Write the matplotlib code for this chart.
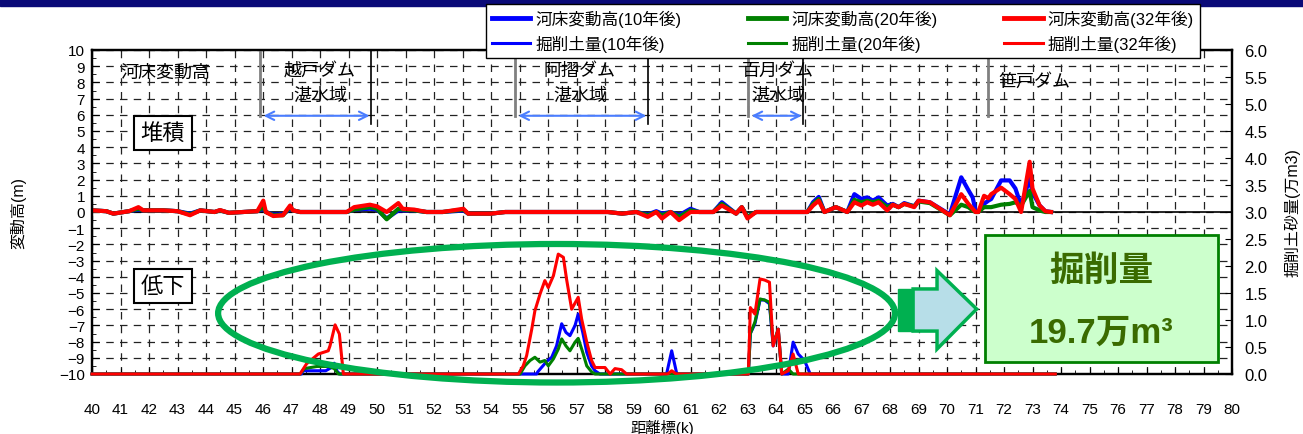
import numpy as np
import matplotlib.pyplot as plt
from matplotlib.patches import Ellipse, Rectangle, Polygon, FancyArrowPatch
from matplotlib.lines import Line2D

plt.rcParams['font.family'] = ['Liberation Sans', 'Noto Sans CJK JP']

# 河床変動高 (m) : distance (k) and values for 10 / 20 / 32 years
bed_k = [40.0, 40.5, 40.75, 41.3, 41.63, 41.8, 42.5, 43.0, 43.44, 43.8, 44.3, 44.49, 44.8,
         45.3, 45.8, 46.01, 46.1, 46.36, 46.7, 46.95, 47.05, 47.3, 48.94, 49.2, 49.75, 50.0,
         50.34, 50.75, 50.9, 51.3, 51.74, 52.3, 53.03, 53.2, 54.0, 54.5, 58.1, 58.6, 59.1,
         59.5, 59.8, 60.0, 60.3, 60.6, 61.0, 61.3, 61.8, 62.1, 62.6, 62.8, 63.0, 63.3, 65.1,
         65.3, 65.5, 65.7, 66.1, 66.5, 66.75, 67.0, 67.2, 67.4, 67.6, 67.9, 68.1, 68.3, 68.5,
         68.85, 69.0, 69.4, 70.1, 70.5, 70.75, 70.9, 71.0, 71.1, 71.3, 71.45, 71.55, 71.9,
         72.2, 72.4, 72.6, 72.9, 73.0, 73.25, 73.45, 73.65]
bed_32 = [0.1, 0.05, -0.1, 0.05, 0.3, 0.1, 0.1, 0.05, -0.2, 0.1, 0.0, 0.12, -0.05,
          0.0, 0.05, 0.7, 0.0, -0.25, -0.2, 0.4, 0.1, 0.0, 0.0, 0.3, 0.45, 0.35,
          0.0, 0.55, 0.2, 0.15, 0.0, 0.0, 0.2, -0.1, -0.1, 0.0, 0.0, -0.1, 0.0,
          -0.3, 0.0, -0.4, 0.0, -0.5, 0.0, 0.0, 0.0, 0.4, -0.1, 0.3, -0.4, 0.0, 0.0,
          0.4, 0.7, 0.0, 0.3, 0.0, 0.6, 0.4, 0.6, 0.45, 0.6, 0.1, 0.45, 0.3, 0.5,
          0.3, 0.7, 0.6, -0.2, 1.1, 0.5, 0.2, 0.0, 0.0, 1.0, 0.85, 1.1, 1.5,
          1.1, 0.8, 0.0, 3.1, 1.45, 0.4, 0.05, 0.0]
bed_20 = [0.1, 0.05, -0.1, 0.05, 0.2, 0.1, 0.1, 0.05, -0.15, 0.1, 0.0, 0.1, -0.05,
          0.0, 0.05, 0.3, 0.0, -0.2, -0.2, 0.3, 0.1, 0.0, 0.0, 0.15, 0.3, 0.2,
          -0.45, 0.2, 0.15, 0.1, 0.0, 0.0, 0.15, -0.1, -0.1, 0.0, 0.0, -0.1, 0.0,
          -0.2, 0.0, -0.2, 0.0, -0.3, 0.1, 0.0, 0.0, 0.5, -0.1, 0.3, -0.3, 0.0, 0.0,
          0.5, 0.8, 0.0, 0.3, 0.0, 0.75, 0.6, 0.7, 0.6, 0.7, 0.3, 0.45, 0.3, 0.5,
          0.35, 0.65, 0.55, -0.2, 0.45, 0.3, 0.1, 0.0, 0.0, 0.3, 0.3, 0.3, 0.45,
          0.5, 0.6, 0.4, 1.3, 0.3, 0.1, 0.0, 0.0]
bed_10 = [0.1, 0.05, -0.1, 0.05, 0.15, 0.1, 0.1, 0.05, -0.1, 0.1, 0.0, 0.1, -0.05,
          0.0, 0.05, 0.2, 0.0, -0.15, -0.15, 0.2, 0.1, 0.0, 0.0, 0.15, 0.2, 0.15,
          -0.4, 0.1, 0.1, 0.1, 0.0, 0.0, 0.1, -0.1, -0.1, 0.0, 0.0, -0.1, 0.0,
          -0.15, 0.05, -0.1, 0.0, -0.2, 0.2, 0.0, 0.0, 0.6, -0.1, 0.3, -0.3, 0.0, 0.0,
          0.6, 0.93, 0.0, 0.3, 0.0, 1.1, 0.8, 0.9, 0.7, 0.9, 0.4, 0.5, 0.3, 0.55,
          0.35, 0.7, 0.6, -0.15, 2.14, 1.35, 0.9, 0.1, 0.0, 0.5, 0.7, 0.8, 1.95,
          1.95, 1.45, 0.4, 2.05, 1.2, 0.4, 0.05, 0.0]

# 掘削土量 (万m3)
exc32_k = [40.0, 47.3, 47.53, 47.94, 48.29, 48.35, 48.53, 48.68, 48.82, 54.96, 55.13, 55.25,
           55.43, 55.54, 55.72, 55.89, 56.01, 56.19, 56.36, 56.54, 56.65, 56.83, 57.06, 57.18,
           57.36, 57.53, 57.65, 58.0, 58.18, 58.35, 58.58, 58.76, 60.2, 60.34, 60.5, 63.03,
           63.1, 63.26, 63.44, 63.6, 63.77, 63.9, 64.08, 64.2, 64.43, 64.6, 64.78, 73.8]
exc32_v = [0, 0, 0.19, 0.37, 0.43, 0.52, 0.91, 0.74, 0, 0, 0.15, 0.34,
           0.83, 1.17, 1.48, 1.73, 1.6, 1.82, 2.22, 2.16, 1.76, 1.2, 1.42, 1.02,
           0.59, 0.25, 0.12, 0.12, 0, 0.1, 0.08, 0, 0, 0.06, 0, 0,
           1.23, 1.11, 1.76, 1.74, 1.7, 0.52, 0.83, 0, 0.06, 0.37, 0, 0]
exc20_k = [40.0, 47.3, 47.45, 47.9, 48.3, 48.5, 48.65, 55.02, 55.19, 55.37, 55.54, 55.72,
           55.89, 56.01, 56.19, 56.36, 56.48, 56.63, 56.77, 56.95, 57.06, 57.22, 57.36,
           57.53, 57.65, 63.03, 63.1, 63.26, 63.44, 63.6, 63.77, 63.9, 64.08, 64.2, 64.43,
           64.6, 73.8]
exc20_v = [0, 0, 0.1, 0.14, 0.14, 0.1, 0, 0, 0.15, 0.25, 0.31, 0.22,
           0.25, 0.15, 0.28, 0.46, 0.65, 0.52, 0.43, 0.59, 0.66, 0.4, 0.15,
           0.04, 0, 0, 0.75, 0.96, 1.39, 1.37, 1.33, 0.56, 0.83, 0, 0.09,
           0, 0]
exc10_k = [40.0, 47.35, 47.4, 48.2, 48.4, 48.5, 48.6, 48.7, 55.6, 55.64, 55.95, 56.13,
           56.3, 56.48, 56.63, 56.77, 56.95, 57.06, 57.22, 57.36, 57.53, 57.65, 57.82,
           60.16, 60.34, 60.52, 63.03, 63.1, 63.26, 63.44, 63.6, 63.77, 63.9, 64.08, 64.2,
           64.43, 64.6, 64.78, 65.0, 65.2, 73.8]
exc10_v = [0, 0, 0.06, 0.06, 0.12, 0.2, 0.05, 0, 0, 0.04, 0.23, 0.31,
           0.52, 0.93, 0.77, 0.71, 0.9, 1.11, 0.77, 0.4, 0.15, 0.06, 0,
           0, 0.43, 0, 0, 0.75, 0.93, 1.37, 1.37, 1.3, 0.52, 0.83, 0,
           0, 0.59, 0.37, 0.25, 0, 0]

BLUE, GREEN, RED = '#0000FF', '#008000', '#FF0000'

fig = plt.figure(figsize=(13.03, 4.35), dpi=100)
fig.add_artist(Rectangle((0, 1 - 7 / 435), 1, 7 / 435, transform=fig.transFigure,
                         color='#0A0A78', zorder=0))

ax = fig.add_axes([92 / 1303, 1 - 375 / 435, 1140 / 1303, 324 / 435])
ax2 = ax.twinx()

ax.plot(bed_k, bed_10, color=BLUE, lw=3, zorder=3)
ax.plot(bed_k, bed_20, color=GREEN, lw=3, zorder=3)
ax.plot(bed_k, bed_32, color=RED, lw=3, zorder=3)
ax.axhline(0, color='black', lw=1.2, zorder=2)

ax2.plot(exc10_k, exc10_v, color=BLUE, lw=2.2, zorder=3, clip_on=False)
ax2.plot(exc20_k, exc20_v, color=GREEN, lw=2.2, zorder=3, clip_on=False)
ax2.plot(exc32_k, exc32_v, color=RED, lw=2.2, zorder=3, clip_on=False)

ax.set_xlim(40, 80)
ax.set_ylim(-10, 10)
ax2.set_ylim(0, 6)
ax.set_xticks(range(40, 81))
ax.set_xticks(np.arange(40, 80.01, 0.5), minor=True)
ax.set_yticks(range(-10, 11))
ax.set_yticks(np.arange(-10, 10.01, 0.5), minor=True)
r_ticks = np.arange(0, 6.01, 0.5)
ax2.set_yticks(r_ticks)
ax2.set_yticklabels([f'{v:.1f}' for v in r_ticks])

ax.grid(True, which='major', color='#222222', lw=0.9, ls=(0, (6, 5)))
ax.tick_params(axis='x', which='both', direction='in', labelsize=11, pad=20)
ax.tick_params(axis='x', which='major', length=4)
ax.tick_params(axis='x', which='minor', length=3)
ax.tick_params(axis='y', which='both', direction='in', labelsize=11, pad=5)
ax.tick_params(axis='y', which='major', length=5)
ax.tick_params(axis='y', which='minor', length=3)
ax2.tick_params(axis='y', direction='in', length=5, labelsize=12, pad=9)
for a in (ax, ax2):
    for s in a.spines.values():
        s.set_linewidth(1.6)

ax.set_xlabel('距離標(k)', fontsize=11, labelpad=2)
ax.set_ylabel('変動高(m)', fontsize=11.5, labelpad=24)
ax2.set_ylabel('掘削土砂量(万m3)', fontsize=11.5, labelpad=12)

# annotations
T = ax.transData
ax2.text(42.56, 8.64, '河床変動高', transform=T, fontsize=13, ha='center', va='center')
for x0, x1, xt, name in [(45.9, 49.79, 48.0, '越戸ダム'), (54.84, 59.5, 57.12, '阿摺ダム'),
                         (63.02, 64.95, 64.07, '百月ダム')]:
    ax2.plot([x0, x0], [10, 5.93], color='#808080', lw=2, transform=T)
    ax2.plot([x1, x1], [10, 5.43], color='black', lw=1.2, transform=T)
    ax2.add_patch(FancyArrowPatch((x0 + 0.12, 5.94), (x1 - 0.05, 5.94), transform=T,
                                  arrowstyle='<->,head_length=6,head_width=3',
                                  color='#4A7DFF', lw=1.5, shrinkA=0, shrinkB=0))
    ax2.text(xt, 8.72, name, transform=T, fontsize=13, ha='center', va='center')
    ax2.text(xt, 7.22, '湛水域', transform=T, fontsize=13, ha='center', va='center')
ax2.plot([71.44, 71.44], [10, 5.93], color='#808080', lw=2, transform=T)
ax2.text(71.79, 8.1, '笹戸ダム', transform=T, fontsize=13, ha='left', va='center')

box_kw = dict(boxstyle='square,pad=0.3', fc='white', ec='black', lw=1.5)
ax2.text(42.48, 4.88, '堆積', transform=T, fontsize=16, ha='center', va='center', bbox=box_kw)
ax2.text(42.5, -4.57, '低下', transform=T, fontsize=16, ha='center', va='center', bbox=box_kw)

ax2.add_patch(Ellipse((56.3, -6.25), 23.75, 8.55, transform=T, fill=False,
                      ec='#00B050', lw=4.5, clip_on=False, zorder=6))
ax2.add_patch(Rectangle((68.28, -7.35), 0.53, 2.6, transform=T, color='#00B050', zorder=6))
ax2.add_patch(Polygon([(68.81, -4.75), (69.65, -4.75), (69.65, -3.62), (71.04, -5.99),
                       (69.65, -8.46), (69.65, -7.35), (68.81, -7.35)], closed=True,
                      transform=T, fc='#B7DEE8', ec='#00B050', lw=2.5, zorder=6))
ax2.add_patch(Rectangle((71.33, -9.26), 8.18, 7.84, transform=T, fc='#CCFFCC',
                        ec='#008000', lw=2, zorder=6))
ax2.text(75.42, -3.58, '掘削量', transform=T, fontsize=25, fontweight='bold',
         color='#3A6B00', ha='center', va='center', zorder=7)
ax2.text(75.42, -7.4, '19.7万m³', transform=T, fontsize=25, fontweight='bold',
         color='#3A6B00', ha='center', va='center', zorder=7)

handles = [Line2D([], [], color=BLUE, lw=3.5), Line2D([], [], color=BLUE, lw=2.2),
           Line2D([], [], color=GREEN, lw=3.5), Line2D([], [], color=GREEN, lw=2.2),
           Line2D([], [], color=RED, lw=3.5), Line2D([], [], color=RED, lw=2.2)]
labels = ['河床変動高(10年後)', '掘削土量(10年後)', '河床変動高(20年後)',
          '掘削土量(20年後)', '河床変動高(32年後)', '掘削土量(32年後)']
leg = fig.legend(handles, labels, ncol=3, loc='upper left',
                 bbox_to_anchor=(486 / 1303, 1 - 5 / 435), frameon=True, fancybox=False,
                 edgecolor='black', framealpha=1, fontsize=12, handlelength=2.3,
                 handletextpad=0.3, columnspacing=4.0, labelspacing=0.45, borderpad=0.35,
                 borderaxespad=0)
leg.get_frame().set_linewidth(1.0)

fig.savefig('out.png', dpi=100)
